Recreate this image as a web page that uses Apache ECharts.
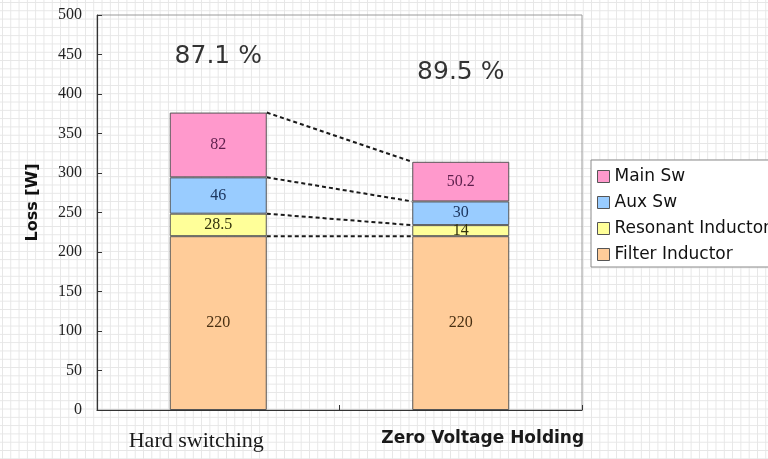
<!DOCTYPE html>
<html>
<head>
<meta charset="utf-8">
<script src="https://cdn.jsdelivr.net/npm/echarts@6/dist/echarts.min.js"></script>
<style>
  html, body { margin: 0; padding: 0; }
  body {
    width: 768px; height: 459px; overflow: hidden;
    background-color: #ffffff;
    background-image:
      linear-gradient(#e6e6e6 1px, transparent 1px),
      linear-gradient(90deg, #e6e6e6 1px, transparent 1px);
    background-size: 8.3px 8.3px;
    background-position: 2px 2px;
  }
  /* the canvas runs past the right edge so the legend box is cut there */
  #chart { width: 800px; height: 459px; }
</style>
</head>
<body>
<div id="chart"></div>
<script>
// Loss breakdown per switching scheme (W)
const categories = ['Hard switching', 'Zero Voltage Holding'];
const filterInductor = [220, 220];
const resonantInductor = [28.5, 14];
const auxSw = [46, 30];
const mainSw = [82, 50.2];
const efficiency = [87.1, 89.5];
const legendOrder = ['Main Sw', 'Aux Sw', 'Resonant Inductor', 'Filter Inductor'];

// Stack order from the bottom up
const stackParts = [
  { name: 'Filter Inductor', values: filterInductor, color: '#ffcc99', text: '#4a3012' },
  { name: 'Resonant Inductor', values: resonantInductor, color: '#ffff99', text: '#33330d' },
  { name: 'Aux Sw', values: auxSw, color: '#99ccff', text: '#1d3760' },
  { name: 'Main Sw', values: mainSw, color: '#ff99cc', text: '#5e1f4c' }
];

// Cumulative top of every layer, used by the dashed connectors
const connectorData = [];
const running = [0, 0];
stackParts.forEach(function (part) {
  running[0] += part.values[0];
  running[1] += part.values[1];
  connectorData.push([0, running[0], running[1]]);
});

// Vertical placement of the efficiency captions (axis units)
const effLabelY = [448, 427];

const barSeries = stackParts.map(function (part) {
  return {
    name: part.name,
    type: 'bar',
    stack: 'loss',
    barWidth: '40%',
    data: part.values,
    itemStyle: { color: part.color, borderColor: '#555555', borderWidth: 1 },
    label: {
      show: true,
      position: 'inside',
      color: part.text,
      fontFamily: 'Liberation Serif',
      fontSize: 16
    }
  };
});

const chart = echarts.init(document.getElementById('chart'), null, { renderer: 'canvas' });

chart.setOption({
  backgroundColor: 'transparent',
  animation: false,
  grid: {
    left: 97, right: 218, top: 15, bottom: 49,
    show: true, borderColor: '#9a9a9a', borderWidth: 1,
    backgroundColor: 'transparent'
  },
  legend: {
    data: legendOrder,
    orient: 'vertical',
    left: 591, top: 160,
    itemWidth: 12, itemHeight: 12, itemGap: 9,
    padding: [8, 30, 4, 6],
    backgroundColor: '#ffffff',
    borderColor: '#8a8a8a', borderWidth: 1,
    icon: 'rect',
    itemStyle: { borderColor: '#555555', borderWidth: 1 },
    textStyle: { fontFamily: 'DejaVu Sans', fontSize: 17, color: '#111111' }
  },
  xAxis: {
    type: 'category',
    data: categories,
    boundaryGap: true,
    axisLine: { lineStyle: { color: '#333333', width: 1.2 } },
    axisTick: { show: true, inside: true, length: 5, lineStyle: { color: '#333333' } },
    axisLabel: {
      margin: 20,
      formatter: function (v, i) {
        return i === 0 ? '{a|' + v + '}' : '{b|' + v + '}';
      },
      rich: {
        a: { fontFamily: 'Liberation Serif', fontSize: 22, color: '#1a1a1a', padding: [0, 44, 0, 0] },
        b: { fontFamily: 'DejaVu Sans', fontWeight: 'bold', fontSize: 17, color: '#1a1a1a', padding: [0, 0, 0, 44] }
      }
    },
    splitLine: { show: false }
  },
  yAxis: {
    type: 'value',
    min: 0, max: 500, interval: 50,
    name: 'Loss [W]',
    nameLocation: 'middle',
    nameGap: 56,
    nameTextStyle: { fontFamily: 'DejaVu Sans', fontWeight: 'bold', fontSize: 16, color: '#111111', padding: [0, 0, 0, 20] },
    axisLine: { show: true, lineStyle: { color: '#333333', width: 1.2 } },
    axisTick: { show: true, inside: true, length: 5, lineStyle: { color: '#333333' } },
    axisLabel: { fontFamily: 'Liberation Serif', fontSize: 16, color: '#222222', margin: 15 },
    splitLine: { show: false }
  },
  series: barSeries.concat([
    {
      name: 'connectors',
      type: 'custom',
      data: connectorData,
      encode: { x: 0, y: [1, 2] },
      silent: true,
      z: 3,
      renderItem: function (params, api) {
        const p1 = api.coord([0, api.value(1)]);
        const p2 = api.coord([1, api.value(2)]);
        const half = api.size([1, 0])[0] * 0.2;
        return {
          type: 'line',
          shape: { x1: p1[0] + half, y1: p1[1], x2: p2[0] - half, y2: p2[1] },
          style: { stroke: '#1a1a1a', lineWidth: 2, lineDash: [4, 3] }
        };
      }
    },
    {
      name: 'efficiency',
      type: 'scatter',
      symbolSize: 0,
      silent: true,
      data: efficiency.map(function (e, i) { return [i, effLabelY[i]]; }),
      label: {
        show: true,
        position: 'inside',
        formatter: function (p) { return efficiency[p.dataIndex] + ' %'; },
        fontFamily: 'DejaVu Sans',
        fontSize: 25,
        color: '#000000'
      }
    }
  ])
});
</script>
</body>
</html>
